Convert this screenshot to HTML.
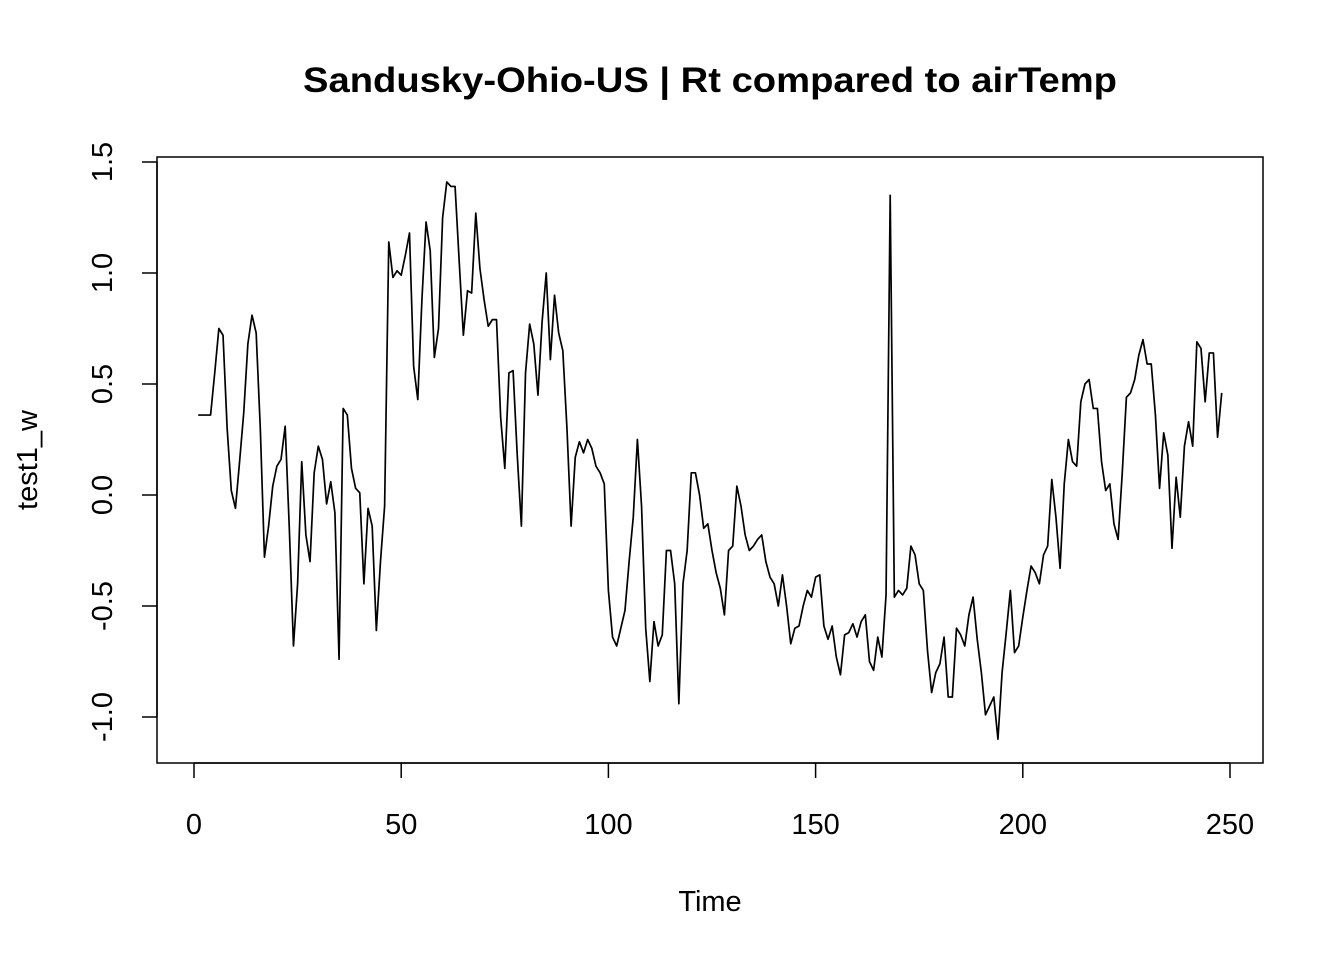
<!DOCTYPE html>
<html><head><meta charset="utf-8"><style>
body{margin:0;background:#fff}
svg text{font-family:"Liberation Sans",Arial,sans-serif;fill:#000}
</style></head><body>
<svg id="chart" width="1344" height="960" viewBox="0 0 1344 960" xmlns="http://www.w3.org/2000/svg">
<rect width="1344" height="960" fill="#fff"/>
<text x="710" y="92" font-size="35" font-weight="bold" text-anchor="middle" textLength="814" lengthAdjust="spacingAndGlyphs">Sandusky-Ohio-US | Rt compared to airTemp</text>
<rect x="157" y="157" width="1106" height="606" fill="none" stroke="#000" stroke-width="1.5"/>
<g id="xaxis"></g>
<g id="yaxis"></g>
<text x="710" y="911" font-size="29" text-anchor="middle">Time</text>
<text transform="translate(37,460) rotate(-90)" font-size="29" text-anchor="middle">test1_w</text>
<path id="series" fill="none" stroke="#000" stroke-width="1.7" stroke-linejoin="round"/>
</svg>
<script>
const xTicks=[0,50,100,150,200,250];
const yTicks=[-1.0,-0.5,0.0,0.5,1.0,1.5];
const yTickLabels=["-1.0","-0.5","0.0","0.5","1.0","1.5"];
const startTime=1;
const values=[0.36,0.36,0.36,0.36,0.55,0.75,0.72,0.3,0.02,-0.06,0.15,0.37,0.68,0.81,0.73,0.3,-0.28,-0.14,0.04,0.13,0.16,0.31,-0.15,-0.68,-0.4,0.15,-0.18,-0.3,0.1,0.22,0.16,-0.04,0.06,-0.08,-0.74,0.39,0.36,0.12,0.03,0.01,-0.4,-0.06,-0.14,-0.61,-0.3,-0.05,1.14,0.98,1.01,0.99,1.08,1.18,0.58,0.43,0.88,1.23,1.1,0.62,0.75,1.25,1.41,1.39,1.39,1.05,0.72,0.92,0.91,1.27,1.02,0.88,0.76,0.79,0.79,0.35,0.12,0.55,0.56,0.18,-0.14,0.55,0.77,0.68,0.45,0.78,1.0,0.61,0.9,0.73,0.65,0.3,-0.14,0.17,0.24,0.19,0.25,0.21,0.13,0.1,0.05,-0.43,-0.64,-0.68,-0.6,-0.52,-0.3,-0.1,0.25,-0.05,-0.6,-0.84,-0.57,-0.68,-0.63,-0.25,-0.25,-0.4,-0.94,-0.4,-0.25,0.1,0.1,0.0,-0.15,-0.13,-0.25,-0.35,-0.42,-0.54,-0.25,-0.23,0.04,-0.05,-0.18,-0.25,-0.23,-0.2,-0.18,-0.3,-0.37,-0.4,-0.5,-0.36,-0.5,-0.67,-0.6,-0.59,-0.5,-0.43,-0.46,-0.37,-0.36,-0.59,-0.65,-0.59,-0.73,-0.81,-0.63,-0.62,-0.58,-0.64,-0.57,-0.54,-0.75,-0.79,-0.64,-0.73,-0.45,1.35,-0.46,-0.43,-0.45,-0.42,-0.23,-0.27,-0.4,-0.43,-0.7,-0.89,-0.8,-0.76,-0.64,-0.91,-0.91,-0.6,-0.63,-0.68,-0.54,-0.46,-0.65,-0.8,-0.99,-0.95,-0.91,-1.1,-0.8,-0.62,-0.43,-0.71,-0.68,-0.55,-0.43,-0.32,-0.35,-0.4,-0.27,-0.23,0.07,-0.1,-0.33,0.05,0.25,0.15,0.13,0.42,0.5,0.52,0.39,0.39,0.15,0.02,0.05,-0.13,-0.2,0.1,0.44,0.46,0.52,0.63,0.7,0.59,0.59,0.36,0.03,0.28,0.18,-0.24,0.08,-0.1,0.22,0.33,0.22,0.69,0.66,0.42,0.64,0.64,0.26,0.46];
const NS="http://www.w3.org/2000/svg";
function xs(t){return 194+(t-0)*(1230-194)/250;}
function ys(v){return 495-v*222;}
const xg=document.getElementById('xaxis'), yg=document.getElementById('yaxis');
function mk(tag,attrs,parent){const e=document.createElementNS(NS,tag);for(const k in attrs)e.setAttribute(k,attrs[k]);parent.appendChild(e);return e;}
mk('line',{x1:xs(xTicks[0]),x2:xs(xTicks[xTicks.length-1]),y1:763,y2:763,stroke:'#000','stroke-width':1.5},xg);
xTicks.forEach(t=>{
  const l=mk('line',{x1:xs(t),x2:xs(t),y1:763,y2:778,stroke:'#000','stroke-width':1.5},xg);
  
  
  const tx=mk('text',{x:xs(t),y:834,'font-size':29,'text-anchor':'middle'},xg);
  tx.textContent=t;
  
  
});
mk('line',{x1:157,x2:157,y1:ys(yTicks[0]),y2:ys(yTicks[yTicks.length-1]),stroke:'#000','stroke-width':1.5},yg);
yTicks.forEach((v,i)=>{
  const l=mk('line',{x1:142,x2:157,y1:ys(v),y2:ys(v),stroke:'#000','stroke-width':1.5},yg);
  
  
  const tx=mk('text',{transform:`translate(112,${ys(v)}) rotate(-90)`,'font-size':29,'text-anchor':'middle'},yg);
  tx.textContent=yTickLabels[i];
  
  
});
document.getElementById('series').setAttribute('d',values.map((v,i)=>(i?'L':'M')+xs(startTime+i).toFixed(2)+','+ys(v).toFixed(2)).join(''));
</script>
</body></html>
